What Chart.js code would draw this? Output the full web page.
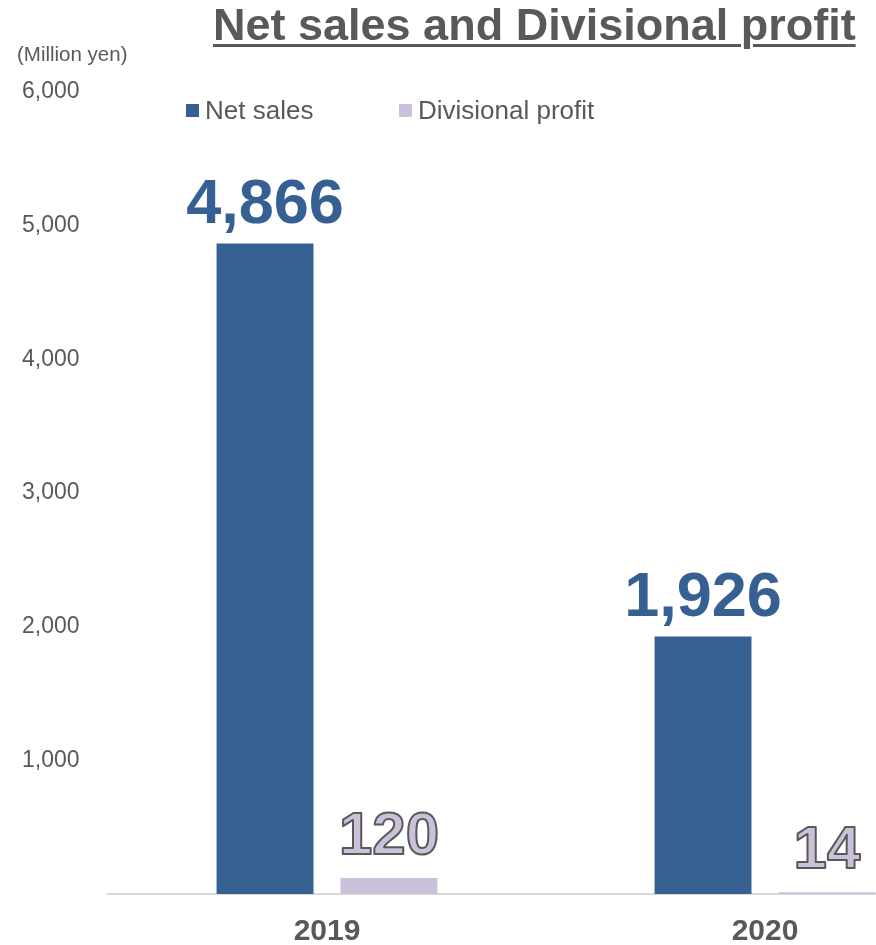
<!DOCTYPE html>
<html>
<head>
<meta charset="utf-8">
<script src="https://cdn.jsdelivr.net/npm/chart.js@4"></script>
<style>
  body { margin: 0; overflow: hidden; background: #fff; font-family: "Liberation Sans", Arial, sans-serif; }
  #wrap { position: relative; width: 876px; height: 945px; overflow: hidden; }
  #chart { position: absolute; left: 0; top: 0; }
  .title { position: absolute; left: 213px; top: -1px; font: bold 45px "Liberation Sans", Arial, sans-serif;
    color: #595959; text-decoration: underline; text-decoration-thickness: 3px; text-underline-offset: 4px; white-space: nowrap; line-height: 52px; }
  .unit { position: absolute; left: 17px; top: 42px; font-size: 20.5px; color: #595959; white-space: nowrap; line-height: 24px; }
  .legend { position: absolute; top: 96px; font-size: 26px; color: #595959; white-space: nowrap; line-height: 28px; }
  .legend span { display: inline-block; width: 13px; height: 13px; margin-right: 6px; vertical-align: 2px; }
</style>
</head>
<body>
<div id="wrap">
  <canvas id="chart" width="990" height="945"></canvas>
  <div class="title">Net sales and Divisional profit</div>
  <div class="unit">(Million yen)</div>
  <div class="legend" style="left:186px"><span style="background:#376092"></span>Net sales</div>
  <div class="legend" style="left:399px"><span style="background:#CCC1DA"></span>Divisional profit</div>
</div>
<script>
const years = ["2019", "2020"];
const netSales = [4866, 1926];
const divisionalProfit = [120, 14];
const yTicks = [1000, 2000, 3000, 4000, 5000, 6000];

const blue = "#376092";
const lavender = "#CCC1DA";
const gray = "#595959";

// value labels above the bars
const valueLabels = {
  id: "valueLabels",
  afterDatasetsDraw(chart) {
    const ctx = chart.ctx;
    chart.data.datasets.forEach((ds, i) => {
      chart.getDatasetMeta(i).data.forEach((bar, j) => {
        const text = ds.data[j].toLocaleString("en-US");
        ctx.save();
        ctx.textAlign = "center";
        ctx.textBaseline = "alphabetic";
        if (i === 0) {
          ctx.font = "bold 63px 'Liberation Sans', Arial, sans-serif";
          ctx.fillStyle = blue;
          ctx.fillText(text, bar.x, bar.y - 21);
        } else {
          ctx.font = "bold 60px 'Liberation Sans', Arial, sans-serif";
          ctx.fillStyle = lavender;
          ctx.strokeStyle = gray;
          ctx.lineWidth = 2;
          ctx.lineJoin = "round";
          ctx.fillText(text, bar.x, bar.y - 24);
          ctx.strokeText(text, bar.x, bar.y - 24);
        }
        ctx.restore();
      });
    });
  }
};

new Chart(document.getElementById("chart"), {
  type: "bar",
  data: {
    labels: years,
    datasets: [
      { label: "Net sales", data: netSales, backgroundColor: blue },
      { label: "Divisional profit", data: divisionalProfit, backgroundColor: lavender }
    ]
  },
  options: {
    responsive: false,
    animation: false,
    categoryPercentage: 0.566,
    barPercentage: 0.782,
    layout: { padding: { left: 22, top: 92, right: 6, bottom: 0 } },
    plugins: {
      legend: { display: false },
      title: { display: false },
      tooltip: { enabled: false }
    },
    scales: {
      x: {
        grid: { display: false, drawTicks: false },
        border: { display: true, color: "#D9D9D9", width: 2 },
        ticks: { color: gray, padding: 20, font: { size: 30, weight: "bold", family: "'Liberation Sans', Arial, sans-serif" } },
        afterFit(scale) { scale.height = 51; }
      },
      y: {
        min: 0,
        max: 6000,
        afterBuildTicks(scale) { scale.ticks = [0, ...yTicks].map(v => ({ value: v })); },
        grid: { display: false, drawTicks: false },
        border: { display: false },
        ticks: {
          color: gray,
          crossAlign: "far",
          padding: 0,
          font: { size: 23, family: "'Liberation Sans', Arial, sans-serif" },
          callback: v => v === 0 ? "" : v.toLocaleString("en-US")
        },
        afterFit(scale) { scale.width = 86; }
      }
    }
  },
  plugins: [valueLabels]
});
</script>
</body>
</html>
